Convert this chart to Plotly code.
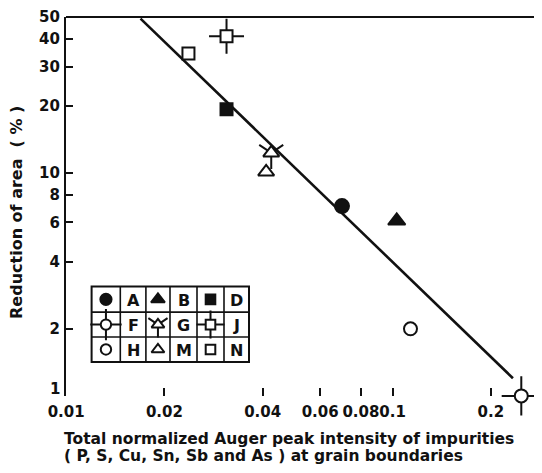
import math
import plotly.graph_objects as go

# ---------------- data ----------------
specimens = ["A", "B", "D", "F", "G", "H", "J", "M", "N"]
auger_intensity = [0.070, 0.103, 0.031, 0.248, 0.0425, 0.1135, 0.031, 0.041, 0.0237]
reduction_of_area = [7.1, 6.1, 19.3, 1.0, 12.3, 2.0, 41.0, 10.1, 34.3]

fit_x = [0.0169, 0.2338]
fit_y = [49.2, 1.2]

x_tickvals = [0.01, 0.02, 0.04, 0.06, 0.08, 0.1, 0.2]
x_ticktext = ["0.01", "0.02", "0.04", "0.06", "0.08", "0.1", "0.2"]
y_tickvals = [1, 2, 4, 6, 8, 10, 20, 30, 40, 50]
y_ticktext = ["1", "2", "4", "6", "8", "10", "20", "30", "40", "50"]

# legend-table layout (rows x cols of specimens)
legend_grid = [["A", "B", "D"], ["F", "G", "J"], ["H", "M", "N"]]

# ---------------- styles ----------------
FONT = "DejaVu Sans"
BLACK = "#111111"
styles = {
    "A": dict(symbol="circle", fill=BLACK, size=14, arms=None),
    "B": dict(symbol="triangle-up", fill=BLACK, size=15, arms=None),
    "D": dict(symbol="square", fill=BLACK, size=12, arms=None),
    "F": dict(symbol="circle", fill="white", size=13, arms=("cross-thin-open", 28)),
    "G": dict(symbol="triangle-up", fill="white", size=14, arms=("y-down-open", 20)),
    "H": dict(symbol="circle", fill="white", size=13, arms=None),
    "J": dict(symbol="square", fill="white", size=12, arms=("cross-thin-open", 25)),
    "M": dict(symbol="triangle-up", fill="white", size=14, arms=None),
    "N": dict(symbol="square", fill="white", size=12, arms=None),
}

# The page body has an 8 px margin, so the figure is laid out in
# "reference" pixels and shifted by OFF.
OFF = 8
W, H = 542 - OFF, 473 - OFF
PL, PR, PT, PB = 66, 542, 15, 396          # plot area in reference pixels
L, T = PL - OFF, PT - OFF
R = W - (PR - OFF)
B = H - (PB - OFF)
plot_w = PR - PL
plot_h = PB - PT
decade_px = 326.5
EPS = 0.0004
x_range = [-2 - EPS, -2 + plot_w / decade_px]
y_range = [-EPS, math.log10(50) + EPS]

def px(xr):
    return (xr - PL) / plot_w

def py(yr):
    return (PB - yr) / plot_h

fig = go.Figure()

# fitted line
fig.add_trace(go.Scatter(x=fit_x, y=fit_y, mode="lines",
                         line=dict(color=BLACK, width=2.6), showlegend=False,
                         hoverinfo="skip"))

def add_points(fig, xs, ys, st, scale=1.0, xaxis="x", yaxis="y"):
    if st["arms"]:
        sym, sz = st["arms"]
        fig.add_trace(go.Scatter(x=xs, y=ys, mode="markers", xaxis=xaxis, yaxis=yaxis,
                                 marker=dict(symbol=sym, size=sz * scale, color=BLACK,
                                             line=dict(color=BLACK, width=2)),
                                 showlegend=False, cliponaxis=False, hoverinfo="skip"))
    fig.add_trace(go.Scatter(x=xs, y=ys, mode="markers", xaxis=xaxis, yaxis=yaxis,
                             marker=dict(symbol=st["symbol"], size=st["size"] * scale,
                                         color=st["fill"],
                                         line=dict(color=BLACK, width=2)),
                             showlegend=False, cliponaxis=False))

for name, xv, yv in zip(specimens, auger_intensity, reduction_of_area):
    add_points(fig, [xv], [yv], styles[name])

# ---------------- legend table (pixel-coordinate overlay axes) ----------------
col_edges = [91.6, 120.3, 145.9, 170.0, 197.0, 224.0, 249.0]
row_edges = [286.0, 311.7, 336.7, 361.7]
shapes = []
shapes.append(dict(type="rect", xref="x2", yref="y2", x0=col_edges[0], x1=col_edges[-1],
                   y0=row_edges[0], y1=row_edges[-1], line=dict(color=BLACK, width=2),
                   fillcolor="white", layer="below"))
for cx in col_edges[1:-1]:
    shapes.append(dict(type="line", xref="x2", yref="y2", x0=cx, x1=cx,
                       y0=row_edges[0], y1=row_edges[-1], line=dict(color=BLACK, width=1.6)))
for ry in row_edges[1:-1]:
    shapes.append(dict(type="line", xref="x2", yref="y2", x0=col_edges[0], x1=col_edges[-1],
                       y0=ry, y1=ry, line=dict(color=BLACK, width=1.6)))

annotations = []
for ri, row in enumerate(legend_grid):
    yc = (row_edges[ri] + row_edges[ri + 1]) / 2
    for ci, name in enumerate(row):
        xs = (col_edges[2 * ci] + col_edges[2 * ci + 1]) / 2
        xl = (col_edges[2 * ci + 1] + col_edges[2 * ci + 2]) / 2
        add_points(fig, [xs], [yc], styles[name], scale=0.8, xaxis="x2", yaxis="y2")
        annotations.append(dict(x=xl, y=yc + 1, xref="x2", yref="y2", text="<b>%s</b>" % name,
                                showarrow=False, font=dict(family=FONT, size=16, color=BLACK)))

# ---------------- frame lines ----------------
shapes.append(dict(type="line", xref="paper", yref="paper", x0=0, x1=1, y0=1, y1=1,
                   line=dict(color=BLACK, width=2.2)))
shapes.append(dict(type="line", xref="x", yref="paper", x0=-2, x1=math.log10(0.217),
                   y0=0, y1=0, line=dict(color=BLACK, width=2.2)))

tick_font = dict(family=FONT, size=15, color=BLACK, weight="bold")

# lowest y tick label, raised slightly above the axis as in the original
y_labels_shown = [""] + y_ticktext[1:]
annotations.append(dict(x=px(62), y=py(389), xref="paper", yref="paper",
                        xanchor="right", yanchor="middle", showarrow=False,
                        text=y_ticktext[0], font=tick_font))

# axis titles
title_font = dict(family=FONT, size=15.5, color=BLACK)
annotations.append(dict(x=px(62), y=py(439.5), xref="paper", yref="paper",
                        xanchor="left", yanchor="middle", showarrow=False,
                        text="<b>Total normalized Auger peak intensity of impurities</b>",
                        font=title_font))
annotations.append(dict(x=px(62), y=py(456.5), xref="paper", yref="paper",
                        xanchor="left", yanchor="middle", showarrow=False,
                        text="<b>( P, S, Cu, Sn, Sb and As ) at grain boundaries</b>",
                        font=title_font))
annotations.append(dict(x=px(17), y=py(212), xref="paper", yref="paper",
                        xanchor="center", yanchor="middle", showarrow=False, textangle=-90,
                        text="<b>Reduction of area  ( % )</b>",
                        font=dict(family=FONT, size=16, color=BLACK)))

fig.update_layout(
    width=W, height=H,
    margin=dict(l=L, r=R, t=T, b=B, pad=0),
    paper_bgcolor="white", plot_bgcolor="white",
    showlegend=False,
    xaxis=dict(type="log", range=x_range, tickvals=x_tickvals, ticktext=x_ticktext,
               ticks="inside", ticklen=8, tickwidth=2, tickcolor=BLACK, tickangle=0,
               showgrid=False, zeroline=False, showline=False,
               ticklabelstandoff=5, ticklabeloverflow="allow", tickfont=tick_font),
    yaxis=dict(type="log", range=y_range, tickvals=y_tickvals, ticktext=y_labels_shown,
               ticks="inside", ticklen=7, tickwidth=2, tickcolor=BLACK,
               showgrid=False, zeroline=False, showline=True, linecolor=BLACK, linewidth=2.2,
               ticklabelstandoff=1, ticklabeloverflow="allow", tickfont=tick_font),
    xaxis2=dict(overlaying="x", range=[PL, PR], visible=False, fixedrange=True),
    yaxis2=dict(overlaying="y", range=[PB, PT], visible=False, fixedrange=True),
    shapes=shapes,
    annotations=annotations,
)

fig.write_html("out.html")
